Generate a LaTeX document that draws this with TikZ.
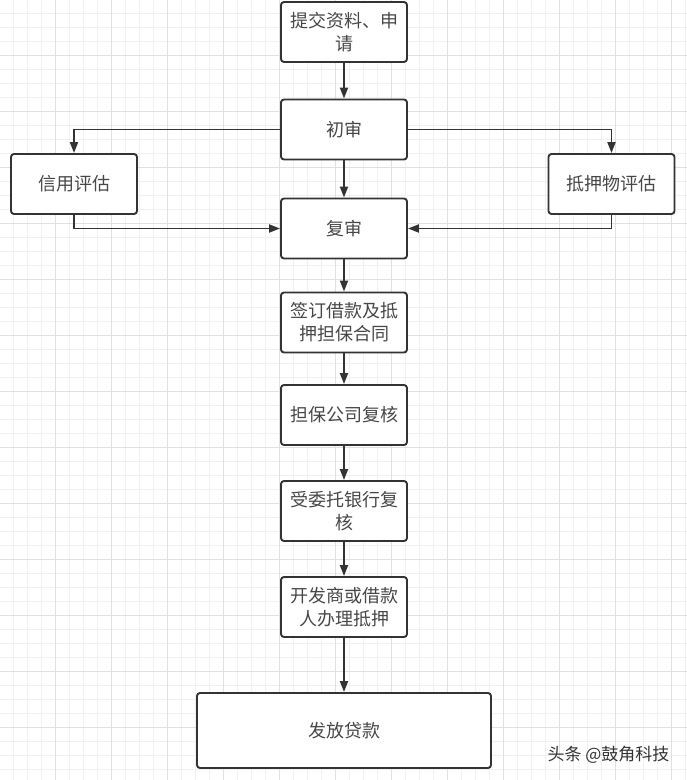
\documentclass[tikz,border=0pt]{standalone}
\usepackage{fontspec}
\setmainfont{Noto Sans CJK SC}
\usetikzlibrary{arrows.meta}
\definecolor{ink}{HTML}{333333}
\definecolor{gridminor}{HTML}{F0F0F0}
\definecolor{gridmajor}{HTML}{E0E0E0}
\tikzset{
  stepbox/.style={draw=ink, line width=1.9pt, rounded corners=3pt, fill=white,
    minimum width=126pt, minimum height=60pt, inner sep=0pt,
    align=center, text=ink!90, font=\fontsize{18}{23}\selectfont},
  link/.style={draw=ink, line width=1.9pt, -{Triangle[length=11pt,width=8pt]}}
}
\begin{document}
\begin{tikzpicture}[x=1pt,y=-1pt]
% page and grid
\useasboundingbox (0,0) rectangle (687,780);
\fill[white] (0,0) rectangle (687,780);
\scope[line width=1pt]
\foreach \x in {13,27,...,685} \draw[gridminor] (\x,0) -- (\x,780);
\foreach \y in {13,27,...,779} \draw[gridminor] (0,\y) -- (687,\y);
\foreach \x in {55,111,...,671} \draw[gridmajor] (\x,0) -- (\x,780);
\foreach \y in {55,111,...,727} \draw[gridmajor] (0,\y) -- (687,\y);
\endscope
% boxes
\node[stepbox] (apply)   at (344,32)    {提交资料、申\\请};
\node[stepbox] (first)   at (344,129.5) {初审};
\node[stepbox] (credit)  at (74,184)    {信用评估};
\node[stepbox] (pledge)  at (611.5,184) {抵押物评估};
\node[stepbox] (second)  at (344,228.5) {复审};
\node[stepbox] (sign)    at (344,322.5) {签订借款及抵\\押担保合同};
\node[stepbox] (guarant) at (344,415)   {担保公司复核};
\node[stepbox] (bank)    at (344,511)   {受委托银行复\\核};
\node[stepbox] (mortg)   at (344,607)   {开发商或借款\\人办理抵押};
\node[stepbox, minimum width=294pt, minimum height=75pt] (loan) at (344,730.5) {发放贷款};
% connectors
\draw[link] (apply) -- (first);
\draw[link] (first.west) -| (credit.north);
\draw[link] (first.east) -| (pledge.north);
\draw[link] (first) -- (second);
\draw[link] (credit.south) |- (second.west);
\draw[link] (pledge.south) |- (second.east);
\draw[link] (second) -- (sign);
\draw[link] (sign) -- (guarant);
\draw[link] (guarant) -- (bank);
\draw[link] (bank) -- (mortg);
\draw[link] (mortg) -- (loan);
% watermark
\node[text=ink, font=\fontsize{17}{19}\selectfont, anchor=east] (watermark) at (673,755) {头条 @鼓角科技};
\end{tikzpicture}
\end{document}
